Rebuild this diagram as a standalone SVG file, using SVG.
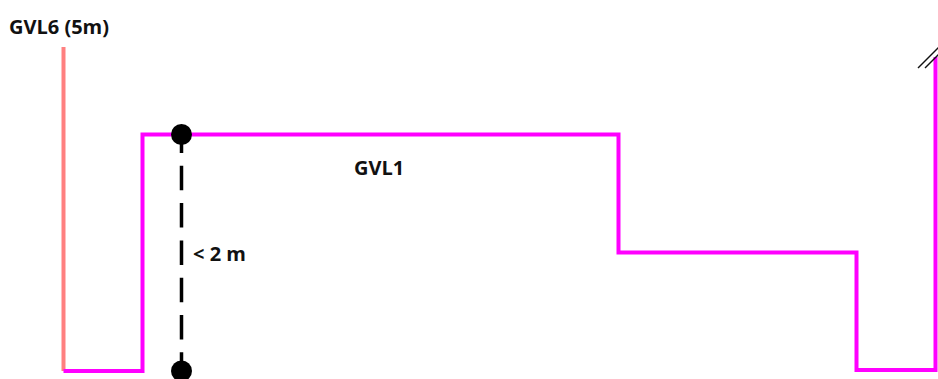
<svg xmlns="http://www.w3.org/2000/svg" width="938" height="379" viewBox="0 0 938 379">
<style>
.t{font-family:"Open Sans","Noto Sans","DejaVu Sans",sans-serif;font-weight:bold;font-size:20px;fill:#111}
.mag{fill:none;stroke:#ff00ff;stroke-width:4;stroke-linejoin:miter}
</style>
<rect width="938" height="379" fill="#fff"/>
<g id="labels">
<text class="t" x="9" y="34">GVL6 (5m)</text>
<text class="t" x="354" y="175">GVL1</text>
<text class="t" x="193" y="261">&lt; 2 m</text>
</g>
<g id="gvl6"><line x1="63.5" y1="47" x2="63.5" y2="371" stroke="#ff8080" stroke-width="4"/></g>
<g id="gvl1"><path class="mag" d="M63.5,371 H142.5 V134.5 H618.5 V252.5 H856.5 V370 H935.5 V57"/></g>
<g id="break"><line x1="918" y1="68" x2="940" y2="46" stroke="#111" stroke-width="1.5"/><line x1="925" y1="68" x2="940" y2="53" stroke="#111" stroke-width="1.5"/></g>
<g id="connectors">
<line x1="181.5" y1="128.5" x2="181.5" y2="371" stroke="#000" stroke-width="3.5" stroke-dasharray="24.5 12.8"/>
</g>
<g id="dot-top"><circle cx="181.5" cy="134.5" r="10.5" fill="#000"/></g>
<g id="dot-bottom"><circle cx="181.5" cy="371" r="10.5" fill="#000"/></g>
</svg>
